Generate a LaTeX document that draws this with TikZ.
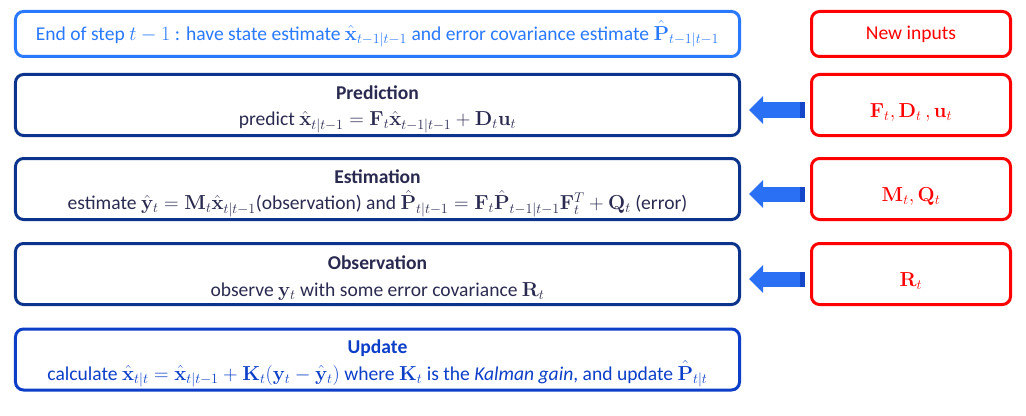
\documentclass[tikz,border=0pt]{standalone}
\usepackage[no-math]{fontspec}
\setmainfont{Carlito}
\usetikzlibrary{arrows.meta}

\definecolor{topblue}{RGB}{41,121,255}
\definecolor{navy}{RGB}{12,52,140}
\definecolor{upblue}{RGB}{12,62,200}
\definecolor{ink}{RGB}{42,42,80}
\definecolor{arrowblue}{RGB}{41,112,245}
\definecolor{arrowdark}{RGB}{20,72,200}

% title line of a step, pushed a little down
\newcommand\steptitle[1]{\rule{0pt}{6.6mm}\textbf{#1}}
% input text, lowered inside its box
\newcommand\inlow[1]{\raisebox{-2.2mm}[\height][\depth]{#1}}

\begin{document}
\begin{tikzpicture}[x=0.3mm, y=-0.3mm,
  every node/.style={font=\fontsize{16.7}{22.5}\selectfont},
  stepbox/.style={draw=navy, line width=0.9mm, rounded corners=2.4mm, minimum width=217.2mm, minimum height=18.3mm, align=center, text=ink, inner sep=0pt},
  inbox/.style={draw=red, line width=0.9mm, rounded corners=2.4mm, minimum width=59.7mm, minimum height=18.3mm, text=red, inner sep=0pt},
  feed/.style={line width=4.5mm, arrowblue, -{Triangle[length=4.2mm, width=8.1mm]}, shorten >=2.4mm, shorten <=1.5mm}]

\useasboundingbox (0,0) rectangle (1026,416);

% Steps
\node[stepbox, draw=topblue, text=topblue, minimum height=13.5mm] (prev) at (377.5,34)
  {End of step $t-1$ : have state estimate $\hat{\mathbf{x}}_{t-1|t-1}$ and error covariance estimate $\hat{\mathbf{P}}_{t-1|t-1}$};
\node[stepbox] (pred) at (377.5,105)
  {\steptitle{Prediction}\\ predict $\hat{\mathbf{x}}_{t|t-1} = \mathbf{F}_t\hat{\mathbf{x}}_{t-1|t-1} + \mathbf{D}_t\mathbf{u}_t$};
\node[stepbox] (est) at (377.5,189)
  {\steptitle{Estimation}\\ estimate $\hat{\mathbf{y}}_t = \mathbf{M}_t\hat{\mathbf{x}}_{t|t-1}$(observation) and $\hat{\mathbf{P}}_{t|t-1} = \mathbf{F}_t\hat{\mathbf{P}}_{t-1|t-1}\mathbf{F}_t^T + \mathbf{Q}_t$ (error)};
\node[stepbox] (obs) at (377.5,274)
  {\steptitle{Observation}\\ observe $\mathbf{y}_t$ with some error covariance $\mathbf{R}_t$};
\node[stepbox, draw=upblue, text=upblue] (upd) at (377.5,359.5)
  {\steptitle{Update}\\ calculate $\hat{\mathbf{x}}_{t|t} = \hat{\mathbf{x}}_{t|t-1} + \mathbf{K}_t(\mathbf{y}_t - \hat{\mathbf{y}}_t)$ where $\mathbf{K}_t$ is the \textit{Kalman gain}, and update $\hat{\mathbf{P}}_{t|t}$};

% Inputs
\node[inbox, minimum height=13.5mm] (newin) at (911,34) {New inputs};
\node[inbox] (in1) at (911,105) {\inlow{$\mathbf{F}_t, \mathbf{D}_t\,, \mathbf{u}_t$}};
\node[inbox] (in2) at (911,189) {\inlow{$\mathbf{M}_t, \mathbf{Q}_t$}};
\node[inbox] (in3) at (911,274) {\inlow{$\mathbf{R}_t$}};

% Arrows
\foreach \src/\dst in {in1/pred, in2/est, in3/obs} {
  \draw[feed] ([yshift=-1.5mm]\src.west) -- ([yshift=-1.5mm]\dst.east);
  \draw[line width=4.5mm, arrowdark] ([xshift=-1.5mm, yshift=-1.5mm]\src.west) -- ++(-1.5mm,0);
}

\end{tikzpicture}
\end{document}
